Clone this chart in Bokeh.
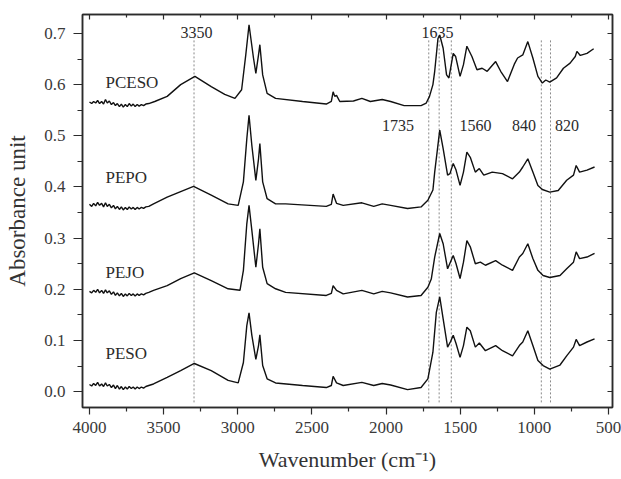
from bokeh.plotting import figure
from bokeh.models import FixedTicker, LinearAxis, Range1d, PrintfTickFormatter
from bokeh.embed import file_html
from bokeh.resources import INLINE
from bokeh.core.properties import value

# ---------------- data (wavenumber cm-1, absorbance) ----------------
PCESO = [(4000,0.566),(3985,0.563),(3972,0.567),(3958,0.564),(3945,0.569),(3932,0.563),(3918,0.567),(3905,0.562),
         (3892,0.571),(3880,0.564),(3866,0.568),(3852,0.561),(3838,0.565),(3825,0.559),(3812,0.563),(3798,0.557),
         (3785,0.562),(3772,0.556),(3758,0.561),(3745,0.557),(3732,0.563),(3718,0.558),(3705,0.562),(3692,0.557),
         (3678,0.561),(3665,0.558),(3650,0.561),(3635,0.559),(3620,0.562),(3600,0.563),
         (3560,0.567),(3476,0.577),(3385,0.600),(3289,0.616),(3179,0.596),(3088,0.581),(3019,0.573),(2974,0.590),
         (2946,0.658),(2924,0.717),(2894,0.652),(2878,0.622),(2860,0.658),(2851,0.678),(2832,0.619),(2802,0.583),
         (2745,0.573),(2563,0.567),(2403,0.562),(2369,0.567),(2357,0.586),(2346,0.577),(2334,0.579),(2312,0.567),
         (2220,0.568),(2163,0.573),(2106,0.567),(2026,0.571),(1969,0.567),(1878,0.559),(1764,0.559),(1729,0.564),
         (1707,0.577),(1684,0.600),(1672,0.626),(1650,0.690),(1638,0.697),(1615,0.671),(1592,0.619),(1576,0.613),
         (1547,0.661),(1531,0.655),(1501,0.616),(1478,0.639),(1455,0.675),(1421,0.655),(1387,0.629),(1352,0.632),
         (1318,0.626),(1261,0.645),(1227,0.626),(1181,0.606),(1135,0.640),(1113,0.652),(1078,0.658),(1044,0.684),
         (1010,0.652),(976,0.616),(946,0.603),(923,0.609),(896,0.605),(850,0.613),(804,0.632),(759,0.642),
         (724,0.655),(713,0.665),(690,0.657),(645,0.661),(600,0.670)]

PEPO = [(4000,0.366),(3985,0.362),(3972,0.368),(3958,0.363),(3945,0.370),(3932,0.364),(3918,0.368),(3905,0.361),
        (3892,0.369),(3880,0.362),(3866,0.366),(3852,0.359),(3838,0.364),(3825,0.357),(3812,0.362),(3798,0.356),
        (3785,0.361),(3772,0.355),(3758,0.360),(3745,0.356),(3732,0.361),(3718,0.357),(3705,0.360),(3692,0.356),
        (3678,0.360),(3665,0.357),(3650,0.360),(3635,0.358),(3620,0.361),(3600,0.362),
        (3568,0.367),(3476,0.380),(3385,0.391),(3298,0.401),(3179,0.384),(3065,0.367),(2997,0.364),(2962,0.410),
        (2939,0.494),(2924,0.540),(2905,0.481),(2878,0.413),(2860,0.455),(2851,0.485),(2832,0.410),(2802,0.377),
        (2745,0.367),(2677,0.367),(2403,0.362),(2369,0.366),(2357,0.386),(2334,0.368),(2289,0.364),(2163,0.369),
        (2083,0.362),(2026,0.367),(1969,0.364),(1855,0.358),(1764,0.361),(1718,0.374),(1684,0.394),(1672,0.429),
        (1638,0.511),(1615,0.475),(1585,0.423),(1569,0.426),(1547,0.446),(1528,0.433),(1501,0.403),(1478,0.429),
        (1455,0.468),(1432,0.458),(1398,0.429),(1371,0.436),(1341,0.423),(1284,0.429),(1215,0.426),(1147,0.416),
        (1101,0.429),(1078,0.439),(1044,0.455),(1010,0.429),(976,0.403),(946,0.395),(896,0.390),(839,0.393),
        (782,0.413),(736,0.423),(718,0.442),(695,0.429),(645,0.433),(594,0.439)]

PEJO = [(4000,0.196),(3985,0.193),(3972,0.198),(3958,0.194),(3945,0.200),(3932,0.193),(3918,0.198),(3905,0.192),
        (3892,0.199),(3880,0.193),(3866,0.197),(3852,0.190),(3838,0.195),(3825,0.188),(3812,0.193),(3798,0.187),
        (3785,0.192),(3772,0.186),(3758,0.191),(3745,0.187),(3732,0.192),(3718,0.188),(3705,0.191),(3692,0.187),
        (3678,0.191),(3665,0.188),(3650,0.191),(3635,0.189),(3620,0.192),(3600,0.194),
        (3568,0.198),(3476,0.207),(3385,0.221),(3293,0.232),(3179,0.217),(3065,0.201),(2985,0.198),(2962,0.237),
        (2939,0.328),(2924,0.364),(2905,0.315),(2878,0.243),(2860,0.289),(2851,0.318),(2832,0.243),(2802,0.211),
        (2745,0.201),(2677,0.194),(2403,0.188),(2369,0.192),(2357,0.207),(2334,0.198),(2289,0.191),(2163,0.198),
        (2083,0.191),(2026,0.196),(1969,0.193),(1855,0.185),(1764,0.188),(1718,0.204),(1695,0.220),(1672,0.263),
        (1638,0.309),(1615,0.289),(1585,0.240),(1565,0.254),(1547,0.266),(1528,0.250),(1501,0.221),(1478,0.253),
        (1455,0.295),(1432,0.283),(1398,0.250),(1364,0.253),(1330,0.247),(1261,0.256),(1215,0.247),(1147,0.237),
        (1101,0.263),(1078,0.270),(1044,0.289),(1010,0.260),(976,0.237),(941,0.227),(896,0.223),(827,0.227),
        (782,0.240),(736,0.253),(718,0.273),(695,0.260),(645,0.263),(594,0.270)]

PESO = [(4000,0.014),(3985,0.011),(3972,0.016),(3958,0.012),(3945,0.018),(3932,0.011),(3918,0.015),(3905,0.010),
        (3892,0.017),(3880,0.011),(3866,0.014),(3852,0.008),(3838,0.013),(3825,0.006),(3812,0.012),(3798,0.005),
        (3785,0.010),(3772,0.004),(3758,0.009),(3745,0.005),(3732,0.010),(3718,0.006),(3705,0.009),(3692,0.005),
        (3678,0.009),(3665,0.006),(3650,0.009),(3635,0.007),(3620,0.010),(3600,0.012),
        (3568,0.015),(3476,0.028),(3385,0.041),(3293,0.055),(3179,0.041),(3065,0.022),(2997,0.017),(2962,0.057),
        (2939,0.129),(2924,0.154),(2905,0.110),(2878,0.063),(2860,0.090),(2851,0.111),(2832,0.051),(2802,0.025),
        (2745,0.017),(2563,0.012),(2403,0.008),(2369,0.012),(2357,0.030),(2334,0.017),(2289,0.012),(2163,0.018),
        (2083,0.012),(2026,0.016),(1969,0.013),(1855,0.004),(1764,0.008),(1718,0.025),(1684,0.077),(1661,0.155),
        (1638,0.185),(1615,0.142),(1585,0.087),(1565,0.098),(1547,0.110),(1528,0.094),(1501,0.067),(1478,0.090),
        (1455,0.126),(1432,0.119),(1398,0.087),(1371,0.095),(1330,0.080),(1261,0.090),(1215,0.080),(1147,0.070),
        (1101,0.090),(1078,0.097),(1044,0.119),(1010,0.090),(976,0.061),(941,0.051),(896,0.044),(827,0.052),
        (782,0.070),(736,0.087),(718,0.102),(695,0.090),(645,0.097),(594,0.103)]

SERIES_NAMES = ["PCESO", "PEPO", "PEJO", "PESO"]
SERIES_LABEL_WN = [3892, 3892, 3892, 3892]
SERIES_LABEL_Y = [0.605, 0.419, 0.233, 0.074]

MARK_WN = [3295, 1712, 1642, 1560, 953, 891]
MARK_TOP = [0.693, 0.687, 0.693, 0.687, 0.687, 0.687]
MARK_BOTTOM = [-0.021] * 6

PEAK_TEXT = ["3350", "1635", "1735", "1560", "840", "820"]
PEAK_TEXT_WN = [3278, 1653, 1920, 1397, 1070, 780]
PEAK_TEXT_Y = [0.7025, 0.7025, 0.520, 0.520, 0.520, 0.520]

X_TICKS = [4000, 3500, 3000, 2500, 2000, 1500, 1000, 500]
X_MINOR = [3750, 3250, 2750, 2250, 1750, 1250, 750]
Y_TICKS = [0.0, 0.1, 0.2, 0.3, 0.4, 0.5, 0.6, 0.7]
Y_MINOR = [0.05, 0.15, 0.25, 0.35, 0.45, 0.55, 0.65]

FONT = "Liberation Serif"
INK = "#2b2b2b"

p = figure(width=621, height=479, x_range=Range1d(4047, 473), y_range=Range1d(-0.031, 0.737),
           output_backend="svg", toolbar_location=None,
           min_border_left=82, min_border_right=9, min_border_top=14, min_border_bottom=72)
p.background_fill_color = "white"
p.border_fill_color = "white"
p.outline_line_color = INK
p.outline_line_width = 1.5
p.xgrid.visible = False
p.ygrid.visible = False

xt = FixedTicker(ticks=X_TICKS, minor_ticks=X_MINOR)
yt = FixedTicker(ticks=Y_TICKS, minor_ticks=Y_MINOR)

xa = p.xaxis[0]
xa.ticker = xt
xa.axis_label = "Wavenumber (cm\u207b\u00b9)"
ya = p.yaxis[0]
ya.ticker = yt
ya.formatter = PrintfTickFormatter(format="%.1f")
ya.axis_label = "Absorbance unit"

for ax in (xa, ya):
    ax.axis_line_color = INK
    ax.axis_line_width = 1.5
    ax.major_tick_line_color = INK
    ax.minor_tick_line_color = INK
    ax.major_tick_line_width = 1.2
    ax.minor_tick_line_width = 1.2
    ax.major_tick_in = 0
    ax.minor_tick_in = 0
    ax.major_label_text_font = FONT
    ax.major_label_text_font_size = "17px"
    ax.major_label_text_color = "#3a3a3a"
    ax.axis_label_text_font = FONT
    ax.axis_label_text_font_style = "normal"
    ax.axis_label_text_color = "#333333"

xa.axis_label_text_font_size = "22px"
ya.axis_label_text_font_size = "23px"
xa.major_tick_out = 7
xa.minor_tick_out = 4
xa.major_label_standoff = 7
xa.axis_label_standoff = 11
ya.major_tick_out = 9
ya.minor_tick_out = 5
ya.major_label_standoff = 8
ya.axis_label_standoff = 11

top = LinearAxis(ticker=xt, major_tick_in=5, major_tick_out=0, minor_tick_in=3, minor_tick_out=0,
                 major_label_text_font_size="0px", major_label_standoff=0,
                 axis_line_color=INK, axis_line_width=1.5, major_tick_line_color=INK,
                 minor_tick_line_color=INK, major_tick_line_width=1.2, minor_tick_line_width=1.2)
top.major_label_overrides = {t: "" for t in X_TICKS}
right = LinearAxis(ticker=yt, major_tick_in=5, major_tick_out=0, minor_tick_in=3, minor_tick_out=0,
                   major_label_text_font_size="0px", major_label_standoff=0,
                   axis_line_color=INK, axis_line_width=1.5, major_tick_line_color=INK,
                   minor_tick_line_color=INK, major_tick_line_width=1.2, minor_tick_line_width=1.2)
right.major_label_overrides = {t: "" for t in Y_TICKS}
p.add_layout(top, "above")
p.add_layout(right, "right")

# dotted marker lines
p.segment(x0=MARK_WN, y0=MARK_BOTTOM, x1=MARK_WN, y1=MARK_TOP,
          line_color="#8a8a8a", line_width=1, line_dash="2 2")

# spectra
for s in (PCESO, PEPO, PEJO, PESO):
    p.line([w for w, a in s], [a for w, a in s], line_color="#111111", line_width=1.4)

# texts
p.text(x=SERIES_LABEL_WN, y=SERIES_LABEL_Y, text=SERIES_NAMES, text_font=value(FONT),
       text_font_size=value("17px"), text_color="#2b2b2b", text_align="left", text_baseline="middle")
p.text(x=PEAK_TEXT_WN, y=PEAK_TEXT_Y, text=PEAK_TEXT, text_font=value(FONT),
       text_font_size=value("16px"), text_color="#2b2b2b", text_align="center", text_baseline="middle")

open("out.html", "w").write(file_html(p, INLINE))
